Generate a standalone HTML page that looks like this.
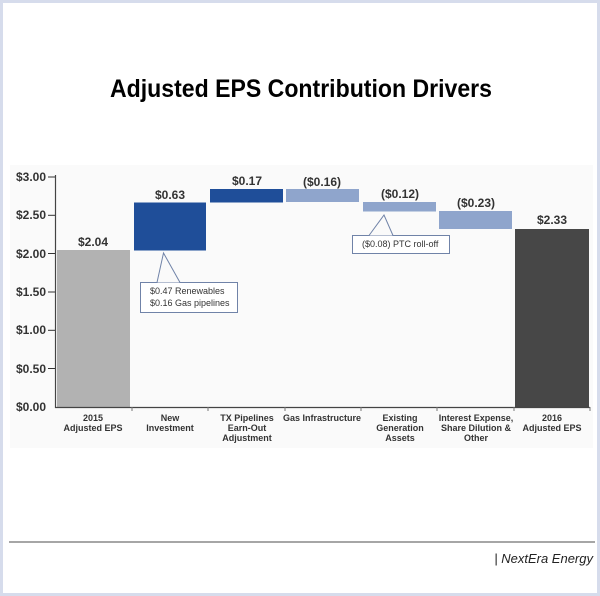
<!DOCTYPE html>
<html><head><meta charset="utf-8"><style>
html,body{margin:0;padding:0;background:#fff;}
svg{display:block;}
text{font-family:"Liberation Sans",Arial,sans-serif;}
</style></head><body>
<svg width="600" height="596" viewBox="0 0 600 596" xmlns="http://www.w3.org/2000/svg">
<rect x="1.5" y="1.5" width="597" height="593" fill="#fff" stroke="#d6dcec" stroke-width="3"/>
<text x="301" y="97" font-size="25" font-weight="bold" text-anchor="middle" textLength="382" lengthAdjust="spacingAndGlyphs" fill="#000">Adjusted EPS Contribution Drivers</text>
<rect x="10" y="165" width="583" height="283" fill="#fafafa"/>
<g font-size="12" font-weight="bold" fill="#333" text-anchor="end">
<text x="46" y="181">$3.00</text>
<text x="46" y="219">$2.50</text>
<text x="46" y="258">$2.00</text>
<text x="46" y="296">$1.50</text>
<text x="46" y="334">$1.00</text>
<text x="46" y="373">$0.50</text>
<text x="46" y="411">$0.00</text>
</g>
<g fill="#333"><rect x="48" y="176.5" width="7" height="1"/><rect x="48" y="214.8" width="7" height="1"/><rect x="48" y="253" width="7" height="1"/><rect x="48" y="291.5" width="7" height="1"/><rect x="48" y="329.8" width="7" height="1"/><rect x="48" y="368" width="7" height="1"/></g>
<rect x="57" y="250" width="73" height="157" fill="#b2b2b2"/>
<rect x="134" y="202.5" width="72" height="48" fill="#1f4e99"/>
<rect x="210" y="189" width="73" height="13.5" fill="#1f4e99"/>
<rect x="286" y="189" width="73" height="13" fill="#8fa5cc"/>
<rect x="363" y="202" width="73" height="9.5" fill="#8fa5cc"/>
<rect x="439" y="211" width="73" height="18" fill="#8fa5cc"/>
<rect x="515" y="229" width="74" height="178" fill="#474747"/>
<line x1="55.5" y1="175" x2="55.5" y2="408" stroke="#444" stroke-width="1.2"/>
<line x1="55" y1="407.5" x2="590" y2="407.5" stroke="#444" stroke-width="1.2"/>
<g stroke="#777"><line x1="132" y1="407" x2="132" y2="411"/><line x1="208" y1="407" x2="208" y2="411"/><line x1="285" y1="407" x2="285" y2="411"/><line x1="361" y1="407" x2="361" y2="411"/><line x1="437" y1="407" x2="437" y2="411"/><line x1="514" y1="407" x2="514" y2="411"/><line x1="590" y1="407" x2="590" y2="411"/></g>
<g font-size="12" font-weight="bold" fill="#333" text-anchor="middle">
<text x="93" y="246">$2.04</text>
<text x="170" y="199">$0.63</text>
<text x="247" y="185">$0.17</text>
<text x="322" y="186">($0.16)</text>
<text x="400" y="198">($0.12)</text>
<text x="476" y="207">($0.23)</text>
<text x="552" y="224">$2.33</text>
</g>
<g font-size="9" font-weight="bold" fill="#333" text-anchor="middle">
<text x="93" y="421">2015</text><text x="93" y="431">Adjusted EPS</text>
<text x="170" y="421">New</text><text x="170" y="431">Investment</text>
<text x="247" y="421">TX Pipelines</text><text x="247" y="431">Earn-Out</text><text x="247" y="441">Adjustment</text>
<text x="322" y="421">Gas Infrastructure</text>
<text x="400" y="421">Existing</text><text x="400" y="431">Generation</text><text x="400" y="441">Assets</text>
<text x="476" y="421">Interest Expense,</text><text x="476" y="431">Share Dilution &amp;</text><text x="476" y="441">Other</text>
<text x="552" y="421">2016</text><text x="552" y="431">Adjusted EPS</text>
</g>
<g stroke="#7083a8" stroke-width="1" fill="none">
<rect x="140.5" y="282.5" width="97" height="30" fill="#fff"/>
<polyline points="157,282.5 163.5,253 180,282.5" fill="#fafafa"/>
<rect x="352.5" y="235.5" width="97" height="18" fill="#fff"/>
<polyline points="369,235.5 384,215 393,235.5" fill="#fafafa"/>
</g>
<g font-size="9" fill="#333">
<text x="150" y="294">$0.47  Renewables</text>
<text x="150" y="306">$0.16  Gas pipelines</text>
<text x="362" y="247">($0.08)  PTC roll-off</text>
</g>
<line x1="9" y1="542" x2="595" y2="542" stroke="#888" stroke-width="1.5"/>
<text x="593" y="563" font-size="13" font-style="italic" fill="#222" text-anchor="end">| NextEra Energy</text>
</svg>
</body></html>
